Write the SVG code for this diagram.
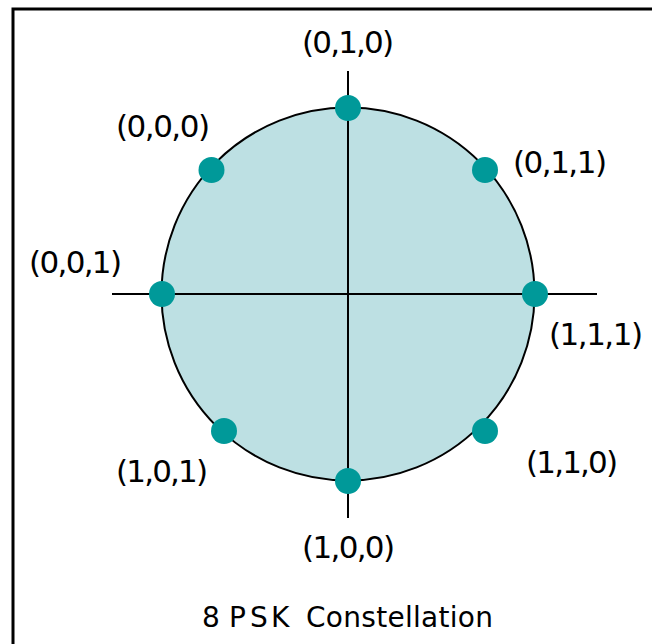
<svg xmlns="http://www.w3.org/2000/svg" width="652" height="644" viewBox="0 0 652 644">
<style>
.lbl{font-family:"DejaVu Sans",Verdana,sans-serif;font-size:31px;fill:#000}
.title{font-family:"DejaVu Sans",Verdana,sans-serif;font-size:28px;fill:#000}
.dot{fill:#009999}
.axis{stroke:#000;stroke-width:2;fill:none}
</style>
<rect x="0" y="0" width="652" height="644" fill="#fff"/>
<rect id="frame" x="13" y="9" width="660" height="660" fill="none" stroke="#000" stroke-width="3"/>
<g id="circle">
<circle cx="348" cy="294" r="186.5" fill="#bde0e3" stroke="#000" stroke-width="2"/>
</g>
<g id="connectors">
<line class="axis" x1="348" y1="71" x2="348" y2="518"/>
<line class="axis" x1="112" y1="294" x2="597" y2="294"/>
</g>
<g id="p010"><circle class="dot" cx="348" cy="108" r="13"/><text class="lbl" x="302" y="53" textLength="92" lengthAdjust="spacing">(0,1,0)</text></g>
<g id="p000"><circle class="dot" cx="211.5" cy="170" r="13"/><text class="lbl" x="116" y="137" textLength="94" lengthAdjust="spacing">(0,0,0)</text></g>
<g id="p011"><circle class="dot" cx="485" cy="170" r="13"/><text class="lbl" x="513" y="173" textLength="94" lengthAdjust="spacing">(0,1,1)</text></g>
<g id="p001"><circle class="dot" cx="162" cy="294" r="13"/><text class="lbl" x="29" y="273" textLength="93" lengthAdjust="spacing">(0,0,1)</text></g>
<g id="p111"><circle class="dot" cx="535" cy="294" r="13"/><text class="lbl" x="549" y="345" textLength="94" lengthAdjust="spacing">(1,1,1)</text></g>
<g id="p101"><circle class="dot" cx="224" cy="431" r="13"/><text class="lbl" x="116" y="482" textLength="92" lengthAdjust="spacing">(1,0,1)</text></g>
<g id="p110"><circle class="dot" cx="485" cy="431" r="13"/><text class="lbl" x="526" y="473" textLength="92" lengthAdjust="spacing">(1,1,0)</text></g>
<g id="p100"><circle class="dot" cx="348" cy="481" r="13"/><text class="lbl" x="302" y="558" textLength="93" lengthAdjust="spacing">(1,0,0)</text></g>
<g id="caption"><text class="title" y="627"><tspan x="202">8</tspan><tspan x="229">P</tspan><tspan x="250">S</tspan><tspan x="271">K</tspan><tspan x="306" textLength="187" lengthAdjust="spacing">Constellation</tspan></text></g>
</svg>
